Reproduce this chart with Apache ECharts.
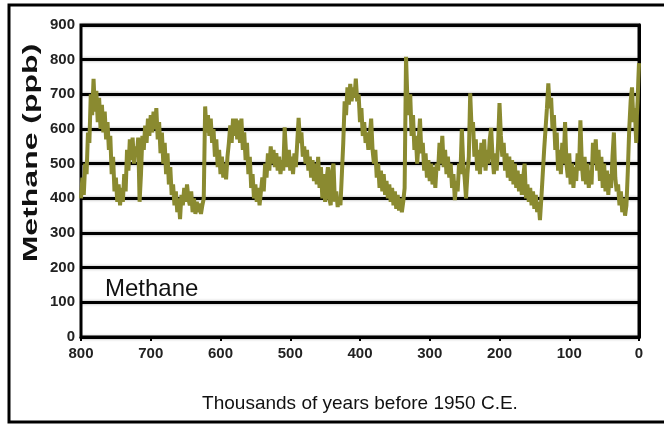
<!DOCTYPE html>
<html>
<head>
<meta charset="utf-8">
<script src="https://cdn.jsdelivr.net/npm/echarts@6/dist/echarts.min.js"></script>
<style>html,body{margin:0;padding:0;background:#fff}#c{width:664px;height:426px}</style>
</head>
<body>
<div id="c"></div>
<script>
// Methane record: age (thousands of years before 1950) and concentration (ppb)
const ages = [
  800,798,796,794,792,790,788,786,784,782,
  780,778,776,774,772,770,768,766,764,762,760,
  758,756,754,752,750,748,746,744,742,740,
  738,736,734,732,730,728,726,724,722,720,718,
  716,714,712,710,708,706,704,702,700,698,
  696,694,692,690,688,686,684,682,680,678,
  676,674,672,670,668,666,664,662,660,658,
  656,654,652,650,648,646,644,642,640,638,
  636,634,632,630,628,626,624,622,620,
  618,616,614,612,610,608,606,604,602,600,
  598,596,594,592,590,588,586,584,582,580,
  578,576,574,572,570,568,566,564,562,560,
  558,556,554,552,550,548,546,544,542,540,
  538,536,534,532,530,528,526,524,522,520,
  518,516,514,512,510,508,506,504,502,500,
  498,496,494,492,490,488,486,484,482,480,
  478,476,474,472,470,468,466,464,462,460,
  458,456,454,452,450,448,446,444,442,440,
  438,436,434,432,430,428,426,424,422,420,
  418,416,414,412,410,408,406,404,402,400,
  398,396,394,392,390,388,386,384,382,380,
  378,376,374,372,370,368,366,364,362,360,
  358,356,354,352,350,348,346,344,342,340,338,336,
  334,332,330,328,326,324,322,320,318,316,
  314,312,310,308,306,304,302,300,298,296,
  294,292,290,288,286,284,282,280,278,276,
  274,272,270,268,266,264,262,260,258,256,
  254,252,250,248,246,244,242,240,238,236,
  234,232,230,228,226,224,222,220,218,216,
  214,212,210,208,206,204,202,200,198,196,
  194,192,190,188,186,184,182,180,178,176,
  174,172,170,168,166,164,162,160,158,156,
  154,152,150,148,146,144,142,140,138,136,
  134,132,130,128,126,124,122,120,118,116,
  114,112,110,108,106,104,102,100,98,96,
  94,92,90,88,86,84,82,80,78,76,
  74,72,70,68,66,64,62,60,58,56,
  54,52,50,48,46,44,42,40,38,36,
  34,32,30,28,26,24,22,20,18,16,
  14,12,10,8,6,4,3,2,1,0
];
const methane = [
  400,460,410,500,470,590,560,700,640,745,
  650,710,620,690,600,670,590,650,570,620,540,
  580,470,520,420,460,390,440,380,430,390,
  470,420,540,480,570,510,575,500,550,520,575,
  390,470,580,540,610,560,630,580,640,590,
  650,600,660,570,620,530,590,500,560,470,
  530,440,490,410,440,380,420,360,400,340,
  410,380,430,390,440,400,380,420,360,400,
  355,390,360,385,355,380,400,665,590,
  640,580,630,560,600,520,570,490,540,470,
  520,460,500,455,520,560,610,560,630,580,
  630,570,625,560,630,540,590,510,560,470,
  520,430,470,400,440,390,430,380,420,460,
  420,500,460,530,480,550,500,540,490,530,
  480,520,470,510,480,605,530,490,540,480,
  520,470,530,490,560,632,560,590,520,550,
  500,540,480,520,460,510,450,500,440,520,
  430,490,400,470,390,450,490,400,380,480,
  500,390,420,375,400,380,470,560,680,640,
  720,670,730,680,720,690,745,680,700,620,
  660,580,620,560,590,540,580,630,540,500,
  540,460,500,430,480,420,470,410,450,400,
  440,390,430,380,420,370,410,365,400,360,390,430,
  808,680,640,700,580,640,540,580,500,560,
  630,530,560,480,530,460,510,450,500,440,
  490,430,500,480,560,500,580,490,540,470,
  520,460,500,430,470,395,450,420,500,470,
  600,500,460,400,470,520,703,600,620,520,
  570,480,540,470,560,490,570,480,540,500,
  570,603,520,470,530,480,560,675,580,520,
  560,480,530,460,520,450,510,440,500,430,
  480,420,470,410,460,500,400,440,390,430,
  380,420,370,410,360,390,337,400,470,540,
  600,660,732,660,690,600,640,540,590,480,
  540,470,560,500,620,500,460,530,440,500,
  430,490,450,530,480,625,500,450,520,440,
  500,430,480,440,560,500,570,480,540,450,
  520,430,500,420,480,410,470,430,520,590,
  460,420,440,380,420,360,400,350,380,480,
  600,680,720,620,660,560,640,680,740,790
];
const yTicks = [0,100,200,300,400,500,600,700,800,900];
const xTicks = [0,100,200,300,400,500,600,700,800];

const seriesData = ages.map((a, i) => [a, methane[i]]);
const chart = echarts.init(document.getElementById('c'), null, {renderer: 'canvas'});
const sans = '"Liberation Sans", Arial, sans-serif';
const gridLine = {color: '#000', width: 3, shadowColor: 'rgba(0,0,0,0.35)', shadowBlur: 3};
chart.setOption({
  animation: false,
  backgroundColor: '#fff',
  title: {
    text: 'Methane', left: 100, top: 272,
    textStyle: {fontFamily: sans, fontSize: 24, fontWeight: 'normal', color: '#111'}
  },
  graphic: [
    {type: 'rect', shape: {x: 9, y: 5, width: 700, height: 417}, style: {fill: 'none', stroke: '#000', lineWidth: 3}, z: 100},
    {type: 'text', x: 31, y: 153, rotation: Math.PI / 2, scaleX: 1.6, scaleY: 1,
     style: {text: 'Methane (ppb)', font: 'bold 20px "Liberation Sans", Arial, sans-serif', fill: '#111', align: 'center', verticalAlign: 'middle'}}
  ],
  grid: {left: 81, right: 25, top: 25, bottom: 89, show: true, borderColor: '#000', borderWidth: 3, backgroundColor: 'transparent'},
  xAxis: {
    type: 'value', inverse: true, min: 0, max: 800, interval: 100,
    axisLine: {show: true, lineStyle: {color: '#000', width: 3}},
    axisTick: {show: true, length: 4, lineStyle: {color: '#000', width: 2}},
    splitLine: {show: false},
    axisLabel: {margin: 9, fontFamily: sans, fontSize: 15, fontWeight: 'bold', color: '#222',
      formatter: v => xTicks.includes(v) ? String(v) : ''},
    name: 'Thousands of years before 1950 C.E.', nameLocation: 'middle', nameGap: 57,
    nameTextStyle: {fontFamily: sans, fontSize: 19, color: '#111'}
  },
  yAxis: {
    type: 'value', min: 0, max: 900, interval: 100,
    axisLine: {show: true, lineStyle: {color: '#000', width: 3}},
    axisTick: {show: true, length: 4, lineStyle: {color: '#000', width: 2}},
    splitLine: {show: true, lineStyle: gridLine},
    axisLabel: {margin: 6, fontFamily: sans, fontSize: 15, fontWeight: 'bold', color: '#222',
      formatter: v => yTicks.includes(v) ? String(v) : ''}
  },
  series: [{
    type: 'line', data: seriesData, showSymbol: false, smooth: false,
    lineStyle: {color: '#8a8a30', width: 4}, z: 5
  }]
});
</script>
</body>
</html>
